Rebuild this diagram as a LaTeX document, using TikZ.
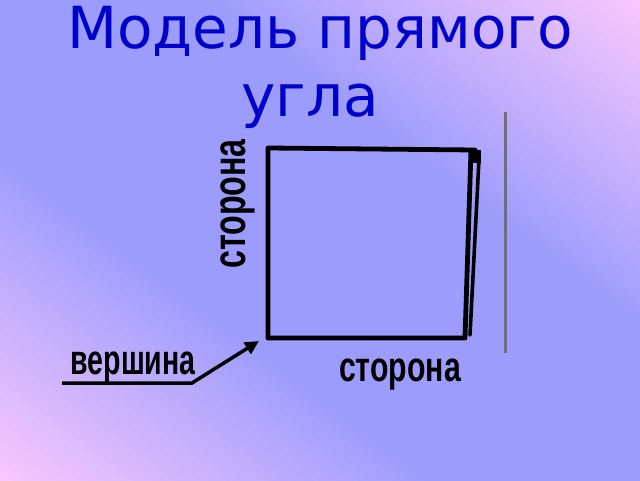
\documentclass[tikz,border=0pt]{standalone}
\usepackage{fontspec}
\setmainfont{DejaVu Sans}
\newfontfamily\lblfont{Liberation Sans}
\usetikzlibrary{arrows.meta}
\definecolor{pinkc}{HTML}{F8C8FC}
\definecolor{bluec}{HTML}{9C9CFC}
\definecolor{titleblue}{HTML}{0000CC}
\definecolor{grayline}{HTML}{707070}
\begin{document}
\begin{tikzpicture}[x=1pt,y=1pt,
  titletext/.style={font=\fontsize{58}{66}\selectfont, text=titleblue, inner sep=0pt, anchor=base},
  lbl/.style={font=\lblfont\bfseries\fontsize{42}{44}\selectfont, inner sep=0pt},
  sq/.style={line width=4.8pt, line join=round, line cap=round, black},
  sqthin/.style={line width=3.6pt, line cap=round, black},
  ptr/.style={line width=3.5pt, black, -{Triangle[length=14pt,width=13pt]}},
  ruler/.style={line width=3pt, grayline}]
\useasboundingbox (0,0) rectangle (640,480);
% background gradient
\begin{scope}
\clip (0,0) rectangle (640,480);
\begin{scope}[shift={(320,240)}, rotate=-36.87]
\foreach \i in {0,...,95} {
  \pgfmathsetmacro{\s}{-384+\i*8+4}
  \pgfmathsetmacro{\f}{max(0,min(100,(abs(\s)-120)/(384-120)*100))}
  \fill[pinkc!\f!bluec] (-460,\s-4.6) rectangle (460,\s+4.6);
}
\end{scope}
\end{scope}
% title
\node[titletext] (t1) at (320,431) {Модель прямого};
\node[titletext] (t2) at (310,363) {угла};
% square model
\coordinate (A) at (268,142);
\coordinate (B) at (465,142);
\coordinate (C) at (471,330);
\coordinate (D) at (268,332);
\coordinate (E) at (475,330);
\coordinate (C2) at (479,321);
\coordinate (B2) at (470,145);
\draw[sq] (A) -- (B) -- (C) -- (E) -- (D) -- cycle;
\draw[sqthin] (C2) -- (B2);
\fill[black] (469,317) rectangle (481,330);
% gray line
\coordinate (g1) at (505,368);
\coordinate (g2) at (505,127);
\draw[ruler] (g1) -- (g2);
% labels
\node[lbl, font=\lblfont\bfseries\fontsize{46}{48}\selectfont, rotate=90, xscale=0.70] (sideV) at (238,276) {сторона};
\node[lbl, xscale=0.72] (sideH) at (400,105) {сторона};
\node[lbl, xscale=0.68] (vert) at (133,112) {вершина};
% pointer to vertex
\coordinate (w0) at (62,97);
\coordinate (w1) at (192,97);
\coordinate (vtx) at (259,139);
\draw[ptr] (w0) -- (w1) -- (vtx);
\end{tikzpicture}
\end{document}
